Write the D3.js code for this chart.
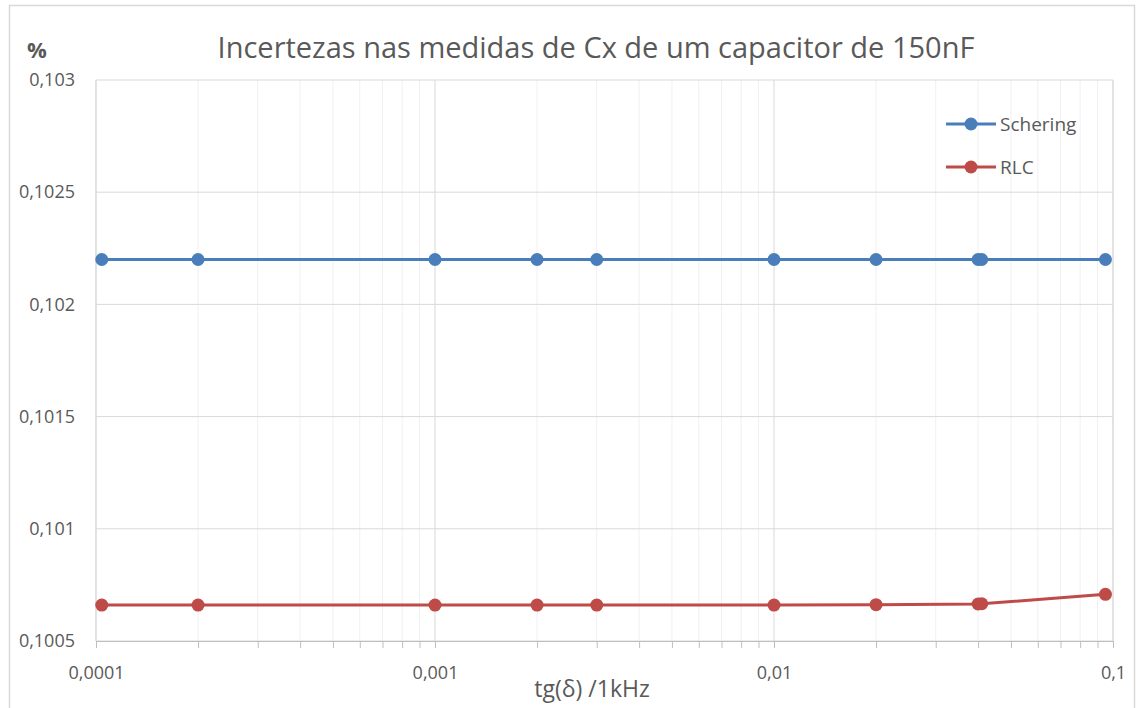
<!DOCTYPE html>
<html>
<head>
<meta charset="utf-8">
<script src="https://cdn.jsdelivr.net/npm/d3@7"></script>
<style>
  body { margin: 0; background: #fff; }
  text { font-family: "Open Sans", "Noto Sans", sans-serif; fill: #595959; }
</style>
</head>
<body>
<div id="chart"></div>
<script>
// data
var xValues = [0.000104, 0.0002, 0.001, 0.002, 0.003, 0.01, 0.02, 0.04, 0.041, 0.095];
var schering = [0.1022, 0.1022, 0.1022, 0.1022, 0.1022, 0.1022, 0.1022, 0.1022, 0.1022, 0.1022];
var rlc = [0.10066, 0.10066, 0.10066, 0.10066, 0.10066, 0.10066, 0.100662, 0.100665, 0.100666, 0.100708];
var yTicks = [0.1005, 0.101, 0.1015, 0.102, 0.1025, 0.103];
var xTicks = [0.0001, 0.001, 0.01, 0.1];
var seriesNames = ["Schering", "RLC"];

var width = 1137, height = 708;
var padding = {top: 80, right: 24, bottom: 67, left: 96};
var chartArea = {
  width: width - padding.left - padding.right,
  height: height - padding.top - padding.bottom
};

var comma = function(v) { return String(+v.toPrecision(6)).replace(".", ","); };

var svg = d3.select("#chart").append("svg")
  .attr("width", width)
  .attr("height", height);

// outer chart border
svg.append("rect")
  .attr("x", 9.5).attr("y", 5.5)
  .attr("width", width - 12).attr("height", height - 4)
  .attr("fill", "none").attr("stroke", "#d9d9d9").attr("stroke-width", 1.5);

var xScale = d3.scaleLog().domain([0.0001, 0.1]).range([0, chartArea.width]);
var yScale = d3.scaleLinear().domain([0.1005, 0.103]).range([chartArea.height, 0]);

var g = svg.append("g")
  .attr("transform", "translate(" + padding.left + "," + padding.top + ")");

// minor + major vertical grid
var allX = xScale.ticks();
g.selectAll(".vgrid").data(allX).enter().append("line")
  .attr("x1", function(d) { return xScale(d); })
  .attr("x2", function(d) { return xScale(d); })
  .attr("y1", 0).attr("y2", chartArea.height)
  .attr("stroke", function(d) { return xTicks.indexOf(d) >= 0 ? "#d9d9d9" : "#f0f0f0"; })
  .attr("stroke-width", 1);

// horizontal grid
g.selectAll(".hgrid").data(yTicks).enter().append("line")
  .attr("x1", 0).attr("x2", chartArea.width)
  .attr("y1", function(d) { return yScale(d); })
  .attr("y2", function(d) { return yScale(d); })
  .attr("stroke", "#d9d9d9");

// left edge + right edge of plot
g.append("line").attr("x1", 0).attr("x2", 0).attr("y1", 0).attr("y2", chartArea.height)
  .attr("stroke", "#d9d9d9");
g.append("line").attr("x1", chartArea.width).attr("x2", chartArea.width).attr("y1", 0).attr("y2", chartArea.height)
  .attr("stroke", "#d9d9d9");

// x axis
var xAxis = g.append("g")
  .attr("transform", "translate(0," + chartArea.height + ")")
  .call(d3.axisBottom(xScale).tickSizeInner(7).tickSizeOuter(0)
    .tickFormat(function(d) { return xTicks.indexOf(d) >= 0 ? comma(d) : ""; }));
xAxis.select(".domain").attr("stroke", "#bfbfbf");
xAxis.selectAll(".tick line").attr("stroke", "#bfbfbf");
xAxis.selectAll(".tick text")
  .attr("dy", "1.55em")
  .style("font-size", "18px")
  .style("font-family", "'Open Sans', sans-serif")
  .attr("fill", "#595959");

// y axis labels
var yAxis = g.append("g")
  .call(d3.axisLeft(yScale).tickValues(yTicks).tickSize(0).tickPadding(21).tickFormat(comma));
yAxis.select(".domain").remove();
yAxis.selectAll(".tick text")
  .style("font-size", "18px")
  .style("font-family", "'Open Sans', sans-serif")
  .attr("fill", "#595959");

// series
var colors = ["#4a7ebb", "#be4b48"];
[schering, rlc].forEach(function(vals, k) {
  var line = d3.line()
    .x(function(d, i) { return xScale(xValues[i]); })
    .y(function(d) { return yScale(d); });
  g.append("path")
    .attr("d", line(vals))
    .attr("fill", "none")
    .attr("stroke", colors[k])
    .attr("stroke-width", 3);
  g.selectAll(".dot" + k).data(vals).enter().append("circle")
    .attr("cx", function(d, i) { return xScale(xValues[i]); })
    .attr("cy", function(d) { return yScale(d); })
    .attr("r", 6.5)
    .attr("fill", colors[k]);
});

// legend
var legend = svg.append("g").attr("transform", "translate(946,124)");
seriesNames.forEach(function(name, k) {
  var row = legend.append("g").attr("transform", "translate(0," + (k * 43) + ")");
  row.append("line").attr("x1", 0).attr("x2", 50).attr("y1", 0).attr("y2", 0)
    .attr("stroke", colors[k]).attr("stroke-width", 3);
  row.append("circle").attr("cx", 25).attr("cy", 0).attr("r", 6.5).attr("fill", colors[k]);
  row.append("text").attr("x", 54).attr("y", 7).style("font-size", "19px").text(name);
});

// title and axis labels
svg.append("text")
  .attr("x", 596).attr("y", 58)
  .attr("text-anchor", "middle")
  .style("font-size", "29px")
  .text("Incertezas nas medidas de Cx de um capacitor de 150nF");

svg.append("text")
  .attr("x", 27).attr("y", 58)
  .style("font-size", "22px").style("font-weight", "bold")
  .text("%");

svg.append("text")
  .attr("x", 592).attr("y", 697)
  .attr("text-anchor", "middle")
  .style("font-size", "23px")
  .text("tg(δ) /1kHz");
</script>
</body>
</html>
